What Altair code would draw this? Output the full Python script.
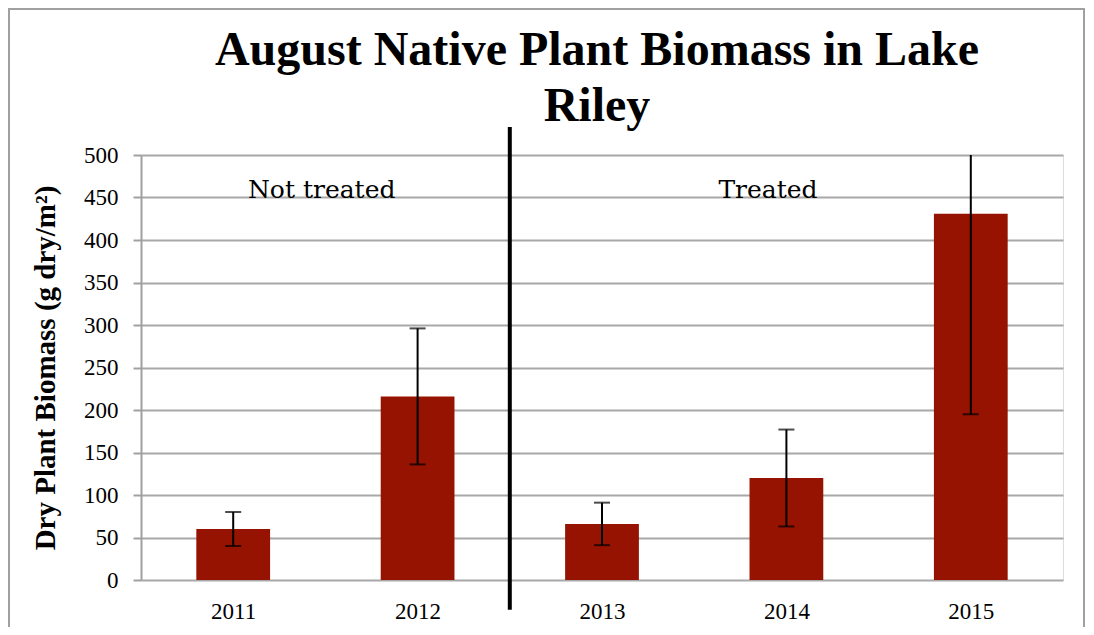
import altair as alt
import pandas as pd

years = [2011, 2012, 2013, 2014, 2015]
biomass = [60, 216, 66, 120, 431]
errors = [20, 80, 25, 57, 236]

notes = ["Not treated", "Treated"]
note_x = [2011.48, 2013.9]
note_y = [450, 450]

divider_x = [2012.5]

df = pd.DataFrame({"year": years, "biomass": biomass, "err": errors})
df_notes = pd.DataFrame({"label": notes, "x": note_x, "y": note_y})
df_div = pd.DataFrame({"x": divider_x, "top": [533], "bottom": [-35]})

serif = "Liberation Serif"
xscale = alt.Scale(domain=[2010.5, 2015.5], nice=False, zero=False)
yscale = alt.Scale(domain=[0, 500], nice=False)

base = alt.Chart(df)

bars = base.transform_calculate(
    x0="datum.year - 0.2", x1="datum.year + 0.2"
).mark_bar(color="#951300").encode(
    x=alt.X("x0:Q", scale=xscale, axis=alt.Axis(
        values=years, format="d", title=None, grid=False, ticks=False,
        domain=False, labelFont=serif, labelFontSize=23, labelColor="#000",
        labelPadding=20)),
    x2="x1:Q",
    y=alt.Y("biomass:Q", scale=yscale, axis=alt.Axis(
        values=list(range(0, 501, 50)), title="Dry Plant Biomass (g dry/m²)",
        titleFont=serif, titleFontSize=29, titleFontWeight="bold", titleColor="#000",
        titlePadding=23, labelFont=serif, labelFontSize=23, labelColor="#000",
        labelPadding=15, tickColor="#a0a0a0", tickSize=8, tickWidth=2,
        domainColor="#a0a0a0", domainWidth=2, gridColor="#a8a8a8", gridWidth=2)),
    y2=alt.datum(0),
)

err = base.transform_calculate(
    lo="datum.biomass - datum.err", hi="datum.biomass + datum.err"
)
err_rule = err.mark_rule(color="#000", strokeWidth=2, clip=True).encode(
    x=alt.X("year:Q", scale=xscale), y=alt.Y("lo:Q", scale=yscale), y2="hi:Q")
err_lo = err.mark_tick(color="#000", thickness=2, size=16, orient="horizontal", clip=True).encode(
    x=alt.X("year:Q", scale=xscale), y=alt.Y("lo:Q", scale=yscale))
err_hi = err.mark_tick(color="#000", thickness=2, size=16, orient="horizontal", clip=True).encode(
    x=alt.X("year:Q", scale=xscale), y=alt.Y("hi:Q", scale=yscale))

divider = alt.Chart(df_div).mark_rule(color="#000", strokeWidth=4).encode(
    x=alt.X("x:Q", scale=xscale), y=alt.Y("top:Q", scale=yscale), y2="bottom:Q")

text = alt.Chart(df_notes).mark_text(
    font="DejaVu Serif", fontSize=25, color="#000", baseline="alphabetic", align="center"
).encode(x=alt.X("x:Q", scale=xscale), y=alt.Y("y:Q", scale=yscale), text="label:N")

border = alt.Chart(df_div).mark_rect(
    fill="white", fillOpacity=0, stroke="#a0a0a0", strokeWidth=2, strokeOpacity=1
).encode(x=alt.value(-132), x2=alt.value(943), y=alt.value(-146), y2=alt.value(500))

chart = alt.layer(border, bars, err_rule, err_lo, err_hi, divider, text).properties(
    width=922, height=425,
    padding={"left": 133, "top": 147, "right": 22, "bottom": 47},
    autosize=alt.AutoSizeParams(type="none"),
    title=alt.TitleParams(
        text=["August Native Plant Biomass in Lake", "Riley"],
        font=serif, fontSize=48, fontWeight="bold", color="#000",
        anchor="middle", frame="group",
        lineHeight=56, offset=0, dy=123, dx=-5),
).configure_view(stroke=None).configure(background="white")

chart.save("out.html", embed_options={"renderer": "svg", "actions": False})
